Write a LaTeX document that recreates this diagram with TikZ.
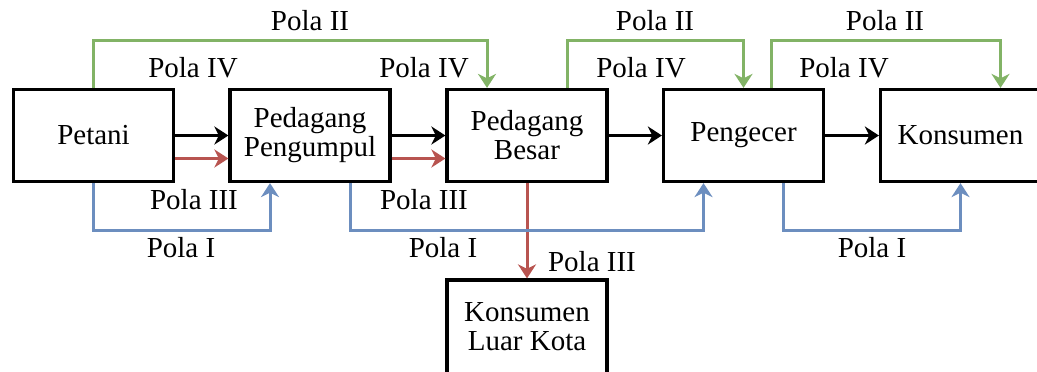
\documentclass[tikz,border=0pt]{standalone}
\usepackage{fontspec}
\setmainfont{Liberation Serif}
\usetikzlibrary{arrows.meta}
\definecolor{pgreen}{HTML}{82B366}
\definecolor{pblue}{HTML}{6C8EBF}
\definecolor{pred}{HTML}{B85450}
\begin{document}
\begin{tikzpicture}[x=0.5pt,y=-0.5pt,
  box/.style={draw=black, line width=1.6pt, minimum width=80pt, minimum height=46pt, inner sep=0pt, align=center, font=\fontsize{14.5}{15.5}\selectfont},
  lbl/.style={inner sep=0pt, font=\fontsize{14.5}{15.5}\selectfont},
  conn/.style={line width=1.5pt, -{Stealth[length=7pt,width=9pt,inset=2.2pt]}},
  gconn/.style={conn, draw=pgreen, color=pgreen},
  bconn/.style={conn, draw=pblue, color=pblue},
  rconn/.style={conn, draw=pred, color=pred},
  kconn/.style={conn, draw=black}]
\useasboundingbox (0,0) rectangle (1037,371);
\node[box] (petani) at (93.5,135.5) {Petani};
\node[box] (pp) at (310,135.5) {Pedagang\\[-1pt]Pengumpul};
\node[box] (pb) at (527,135.5) {Pedagang\\[-1pt]Besar};
\node[box] (pg) at (743.5,135.5) {Pengecer};
\node[box] (ks) at (960.5,135.5) {Konsumen};
\node[box, minimum height=60pt] (klk) at (527,340) {};
\node[inner sep=0pt, align=center, font=\fontsize{14.5}{15.5}\selectfont] (klkt) at (527,327) {Konsumen\\[-1pt]Luar Kota};
% black arrows
\draw[kconn] (petani.east) -- (pp.west);
\draw[kconn] (pp.east) -- (pb.west);
\draw[kconn] (pb.east) -- (pg.west);
\draw[kconn] (pg.east) -- (ks.west);
% red arrows
\draw[rconn] ([yshift=-11.5pt]petani.east) -- ([yshift=-11.5pt]pp.west);
\draw[rconn] ([yshift=-11.5pt]pp.east) -- ([yshift=-11.5pt]pb.west);
\draw[rconn] (pb.south) -- (klk.north);
% green
\coordinate (g1) at (487,40);
\coordinate (g2) at (743.5,40);
\coordinate (g3) at (1000.5,40);
\draw[gconn] (petani.north) |- (g1) -- (g1 |- pb.north);
\draw[gconn] ([xshift=20pt]pb.north) |- (g2) -- (pg.north);
\draw[gconn] ([xshift=13.75pt]pg.north) |- (g3) -- (g3 |- ks.north);
% blue
\coordinate (b1) at (270,230);
\coordinate (b2) at (703.5,230);
\coordinate (b3) at (960.5,230);
\draw[bconn] (petani.south) |- (b1) -- (b1 |- pp.south);
\draw[bconn] ([xshift=20pt]pp.south) |- (b2) -- (b2 |- pg.south);
\draw[bconn] ([xshift=20pt]pg.south) |- (b3) -- (ks.south);
% labels
\node[lbl] (l2a) at (310,21) {Pola II};
\node[lbl] (l2b) at (655,21) {Pola II};
\node[lbl] (l2c) at (885,21) {Pola II};
\node[lbl] (l4a) at (193,68) {Pola IV};
\node[lbl] (l4b) at (424,68) {Pola IV};
\node[lbl] (l4c) at (641,68) {Pola IV};
\node[lbl] (l4d) at (844,68) {Pola IV};
\node[lbl] (l3a) at (194,200) {Pola III};
\node[lbl] (l3b) at (424,200) {Pola III};
\node[lbl] (l3c) at (592,262) {Pola III};
\node[lbl] (l1a) at (181,248) {Pola I};
\node[lbl] (l1b) at (443,248) {Pola I};
\node[lbl] (l1c) at (872,248) {Pola I};
\end{tikzpicture}
\end{document}
